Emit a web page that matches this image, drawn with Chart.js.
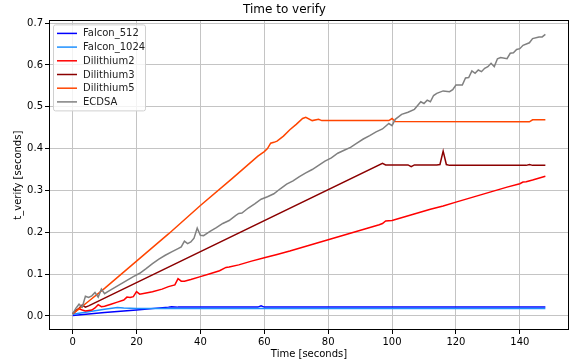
<!DOCTYPE html>
<html>
<head>
<meta charset="utf-8">
<script src="https://cdn.jsdelivr.net/npm/chart.js@4"></script>
<style>
  html, body { margin: 0; padding: 0; background: #fff; }
  #wrap { width: 573px; height: 364px; }
</style>
</head>
<body>
<div id="wrap"><canvas id="verifyChart" width="573" height="364"></canvas></div>
<script>
// tick values
const xTicks = [0, 20, 40, 60, 80, 100, 120, 140];
const yTicks = [0, 0.1, 0.2, 0.3, 0.4, 0.5, 0.6, 0.7];

// series values (time in seconds -> t_verify in seconds)
const falcon512X = [0, 10, 20, 30, 31, 33, 58, 59, 60, 148];
const falcon512Y = [0.001, 0.008, 0.014, 0.021, 0.022, 0.021, 0.021, 0.024, 0.021, 0.021];

const falcon1024X = [0, 5, 10, 14, 16, 20, 148];
const falcon1024Y = [0.004, 0.010, 0.016, 0.020, 0.019, 0.018, 0.018];

const dilithium2X = [0, 1, 2, 3, 4, 6, 7, 8, 9, 10, 12, 14, 16, 17, 18, 19, 20, 21, 23, 25, 28, 30, 32, 33, 34, 35, 37, 40, 43, 46, 48, 49, 52, 56, 60, 64, 68, 72, 76, 80, 84, 88, 92, 96, 97, 98, 100, 104, 108, 112, 116, 120, 124, 128, 132, 136, 140, 141, 142, 144, 148];
const dilithium2Y = [0.005, 0.012, 0.017, 0.014, 0.012, 0.014, 0.019, 0.027, 0.022, 0.023, 0.028, 0.033, 0.038, 0.045, 0.044, 0.046, 0.058, 0.052, 0.055, 0.058, 0.064, 0.070, 0.074, 0.089, 0.083, 0.083, 0.087, 0.094, 0.101, 0.108, 0.116, 0.117, 0.122, 0.131, 0.139, 0.147, 0.155, 0.164, 0.173, 0.182, 0.191, 0.200, 0.209, 0.218, 0.221, 0.227, 0.228, 0.237, 0.246, 0.255, 0.263, 0.272, 0.281, 0.290, 0.299, 0.308, 0.316, 0.320, 0.321, 0.325, 0.334];

const dilithium3X = [0, 1, 2, 3, 4, 5, 97, 98, 100, 105, 106, 107, 108, 114, 115, 116, 117, 118, 130, 142, 143, 144, 148];
const dilithium3Y = [0.005, 0.012, 0.018, 0.026, 0.021, 0.024, 0.365, 0.361, 0.361, 0.361, 0.357, 0.361, 0.361, 0.361, 0.362, 0.394, 0.362, 0.360, 0.360, 0.360, 0.362, 0.360, 0.360];

const dilithium5X = [0, 2, 5, 10, 20, 30, 40, 50, 58, 60, 61, 62, 63, 64, 66, 68, 70, 72, 73, 75, 77, 78, 99, 100, 101, 143, 144, 148];
const dilithium5Y = [0.005, 0.017, 0.035, 0.066, 0.131, 0.196, 0.264, 0.329, 0.382, 0.393, 0.400, 0.413, 0.415, 0.418, 0.430, 0.445, 0.458, 0.472, 0.475, 0.467, 0.470, 0.467, 0.467, 0.472, 0.465, 0.464, 0.469, 0.469];

const ecdsaX = [0, 1, 2, 3, 4, 5, 6, 7, 8, 9, 10, 11, 13, 15, 17, 19, 21, 23, 25, 27, 29, 31, 33, 34, 35, 36, 37, 38, 39, 40, 41, 43, 45, 47, 49, 51, 52, 53, 55, 57, 59, 61, 63, 65, 67, 69, 71, 73, 75, 77, 79, 81, 83, 85, 87, 89, 91, 93, 95, 97, 99, 100, 101, 103, 105, 107, 108, 109, 110, 111, 112, 113, 114, 116, 118, 119, 120, 122, 123, 124, 125, 126, 127, 128, 129, 130, 131, 132, 133, 134, 136, 137, 138, 139, 140, 141, 143, 144, 146, 147, 148];
const ecdsaY = [0.005, 0.018, 0.028, 0.021, 0.047, 0.044, 0.048, 0.056, 0.045, 0.064, 0.053, 0.058, 0.067, 0.076, 0.085, 0.094, 0.102, 0.113, 0.125, 0.136, 0.145, 0.153, 0.161, 0.165, 0.179, 0.173, 0.177, 0.186, 0.210, 0.193, 0.192, 0.202, 0.211, 0.221, 0.228, 0.240, 0.245, 0.246, 0.258, 0.268, 0.279, 0.285, 0.292, 0.304, 0.315, 0.323, 0.333, 0.342, 0.350, 0.360, 0.370, 0.378, 0.389, 0.396, 0.403, 0.413, 0.423, 0.431, 0.440, 0.447, 0.460, 0.455, 0.470, 0.482, 0.487, 0.494, 0.503, 0.512, 0.508, 0.516, 0.512, 0.527, 0.532, 0.538, 0.536, 0.541, 0.552, 0.552, 0.569, 0.570, 0.586, 0.580, 0.588, 0.584, 0.592, 0.596, 0.604, 0.596, 0.615, 0.618, 0.615, 0.628, 0.629, 0.637, 0.639, 0.647, 0.653, 0.663, 0.667, 0.667, 0.673];

const labels = ['Falcon_512', 'Falcon_1024', 'Dilithium2', 'Dilithium3', 'Dilithium5', 'ECDSA'];
const colors = ['#0000ff', '#1e90ff', '#ff0000', '#8b0000', '#ff4500', '#808080'];
const seriesX = [falcon512X, falcon1024X, dilithium2X, dilithium3X, dilithium5X, ecdsaX];
const seriesY = [falcon512Y, falcon1024Y, dilithium2Y, dilithium3Y, dilithium5Y, ecdsaY];

const FONT = 'DejaVu Sans';

// legend drawn inside the plot, upper left, like matplotlib
const boxLegend = {
    id: 'boxLegend',
    afterDatasetsDraw(chart) {
        const ctx = chart.ctx;
        const area = chart.chartArea;
        const x0 = area.left + 4, y0 = area.top + 4;
        const w = 92, h = 86;
        ctx.save();
        ctx.fillStyle = 'rgba(255,255,255,0.8)';
        ctx.strokeStyle = '#d0d0d0';
        ctx.lineWidth = 1;
        ctx.beginPath();
        ctx.roundRect(x0 + 0.5, y0 + 0.5, w, h, 2);
        ctx.fill();
        ctx.stroke();
        ctx.font = '10px ' + FONT;
        ctx.textBaseline = 'middle';
        ctx.fillStyle = '#222';
        labels.forEach((lab, i) => {
            const y = y0 + 9 + i * 13.7;
            ctx.strokeStyle = colors[i];
            ctx.lineWidth = 1.5;
            ctx.beginPath();
            ctx.moveTo(x0 + 4, y);
            ctx.lineTo(x0 + 24, y);
            ctx.stroke();
            ctx.fillText(lab, x0 + 30, y + 0.5);
        });
        ctx.restore();
    }
};

// full frame around the axes
const frame = {
    id: 'frame',
    afterDraw(chart) {
        const ctx = chart.ctx;
        const a = chart.chartArea;
        ctx.save();
        ctx.strokeStyle = '#000';
        ctx.lineWidth = 1;
        ctx.strokeRect(Math.round(a.left) + 0.5, Math.round(a.top) + 0.5, Math.round(a.right - a.left) - 1, Math.round(a.bottom - a.top) - 1);
        ctx.restore();
    }
};

const ctx = document.getElementById('verifyChart').getContext('2d');
new Chart(ctx, {
    type: 'line',
    data: {
        datasets: labels.map((lab, i) => ({
            label: lab,
            data: seriesX[i].map((x, j) => ({ x: x, y: seriesY[i][j] })),
            borderColor: colors[i],
            backgroundColor: colors[i],
            borderWidth: 1.5,
            pointRadius: 0,
            tension: 0,
            order: -i
        }))
    },
    options: {
        responsive: false,
        animation: false,
        layout: { padding: { left: 0, right: 4, top: 0, bottom: 0 } },
        plugins: {
            legend: { display: false },
            tooltip: { enabled: false },
            title: {
                display: true,
                text: 'Time to verify',
                color: '#000',
                font: { family: FONT, size: 12, weight: 'normal' },
                padding: { top: 3, bottom: 3 }
            }
        },
        scales: {
            x: {
                type: 'linear',
                min: -7.4,
                max: 155.4,
                afterBuildTicks: s => { s.ticks = xTicks.map(v => ({ value: v })); },
                afterFit: s => { s.height = 34; },
                ticks: {
                    color: '#000',
                    font: { family: FONT, size: 10 },
                    padding: 2,
                    maxRotation: 0,
                    callback: v => String(v)
                },
                grid: { color: '#c4c4c4', lineWidth: 1, tickColor: '#000', tickLength: 4 },
                border: { display: false },
                title: {
                    display: true,
                    text: 'Time [seconds]',
                    color: '#000',
                    font: { family: FONT, size: 10 },
                    padding: { top: 0, bottom: 4 }
                }
            },
            y: {
                type: 'linear',
                min: -0.0337,
                max: 0.7066,
                afterBuildTicks: s => { s.ticks = yTicks.map(v => ({ value: v })); },
                afterFit: s => { s.width = 49; },
                ticks: {
                    color: '#000',
                    font: { family: FONT, size: 10 },
                    padding: 2,
                    callback: v => v.toFixed(1)
                },
                grid: { color: '#c4c4c4', lineWidth: 1, tickColor: '#000', tickLength: 4 },
                border: { display: false },
                title: {
                    display: true,
                    text: 't_verify [seconds]',
                    color: '#000',
                    font: { family: FONT, size: 10 },
                    padding: { top: 12, bottom: 0 }
                }
            }
        }
    },
    plugins: [boxLegend, frame]
});
</script>
</body>
</html>
